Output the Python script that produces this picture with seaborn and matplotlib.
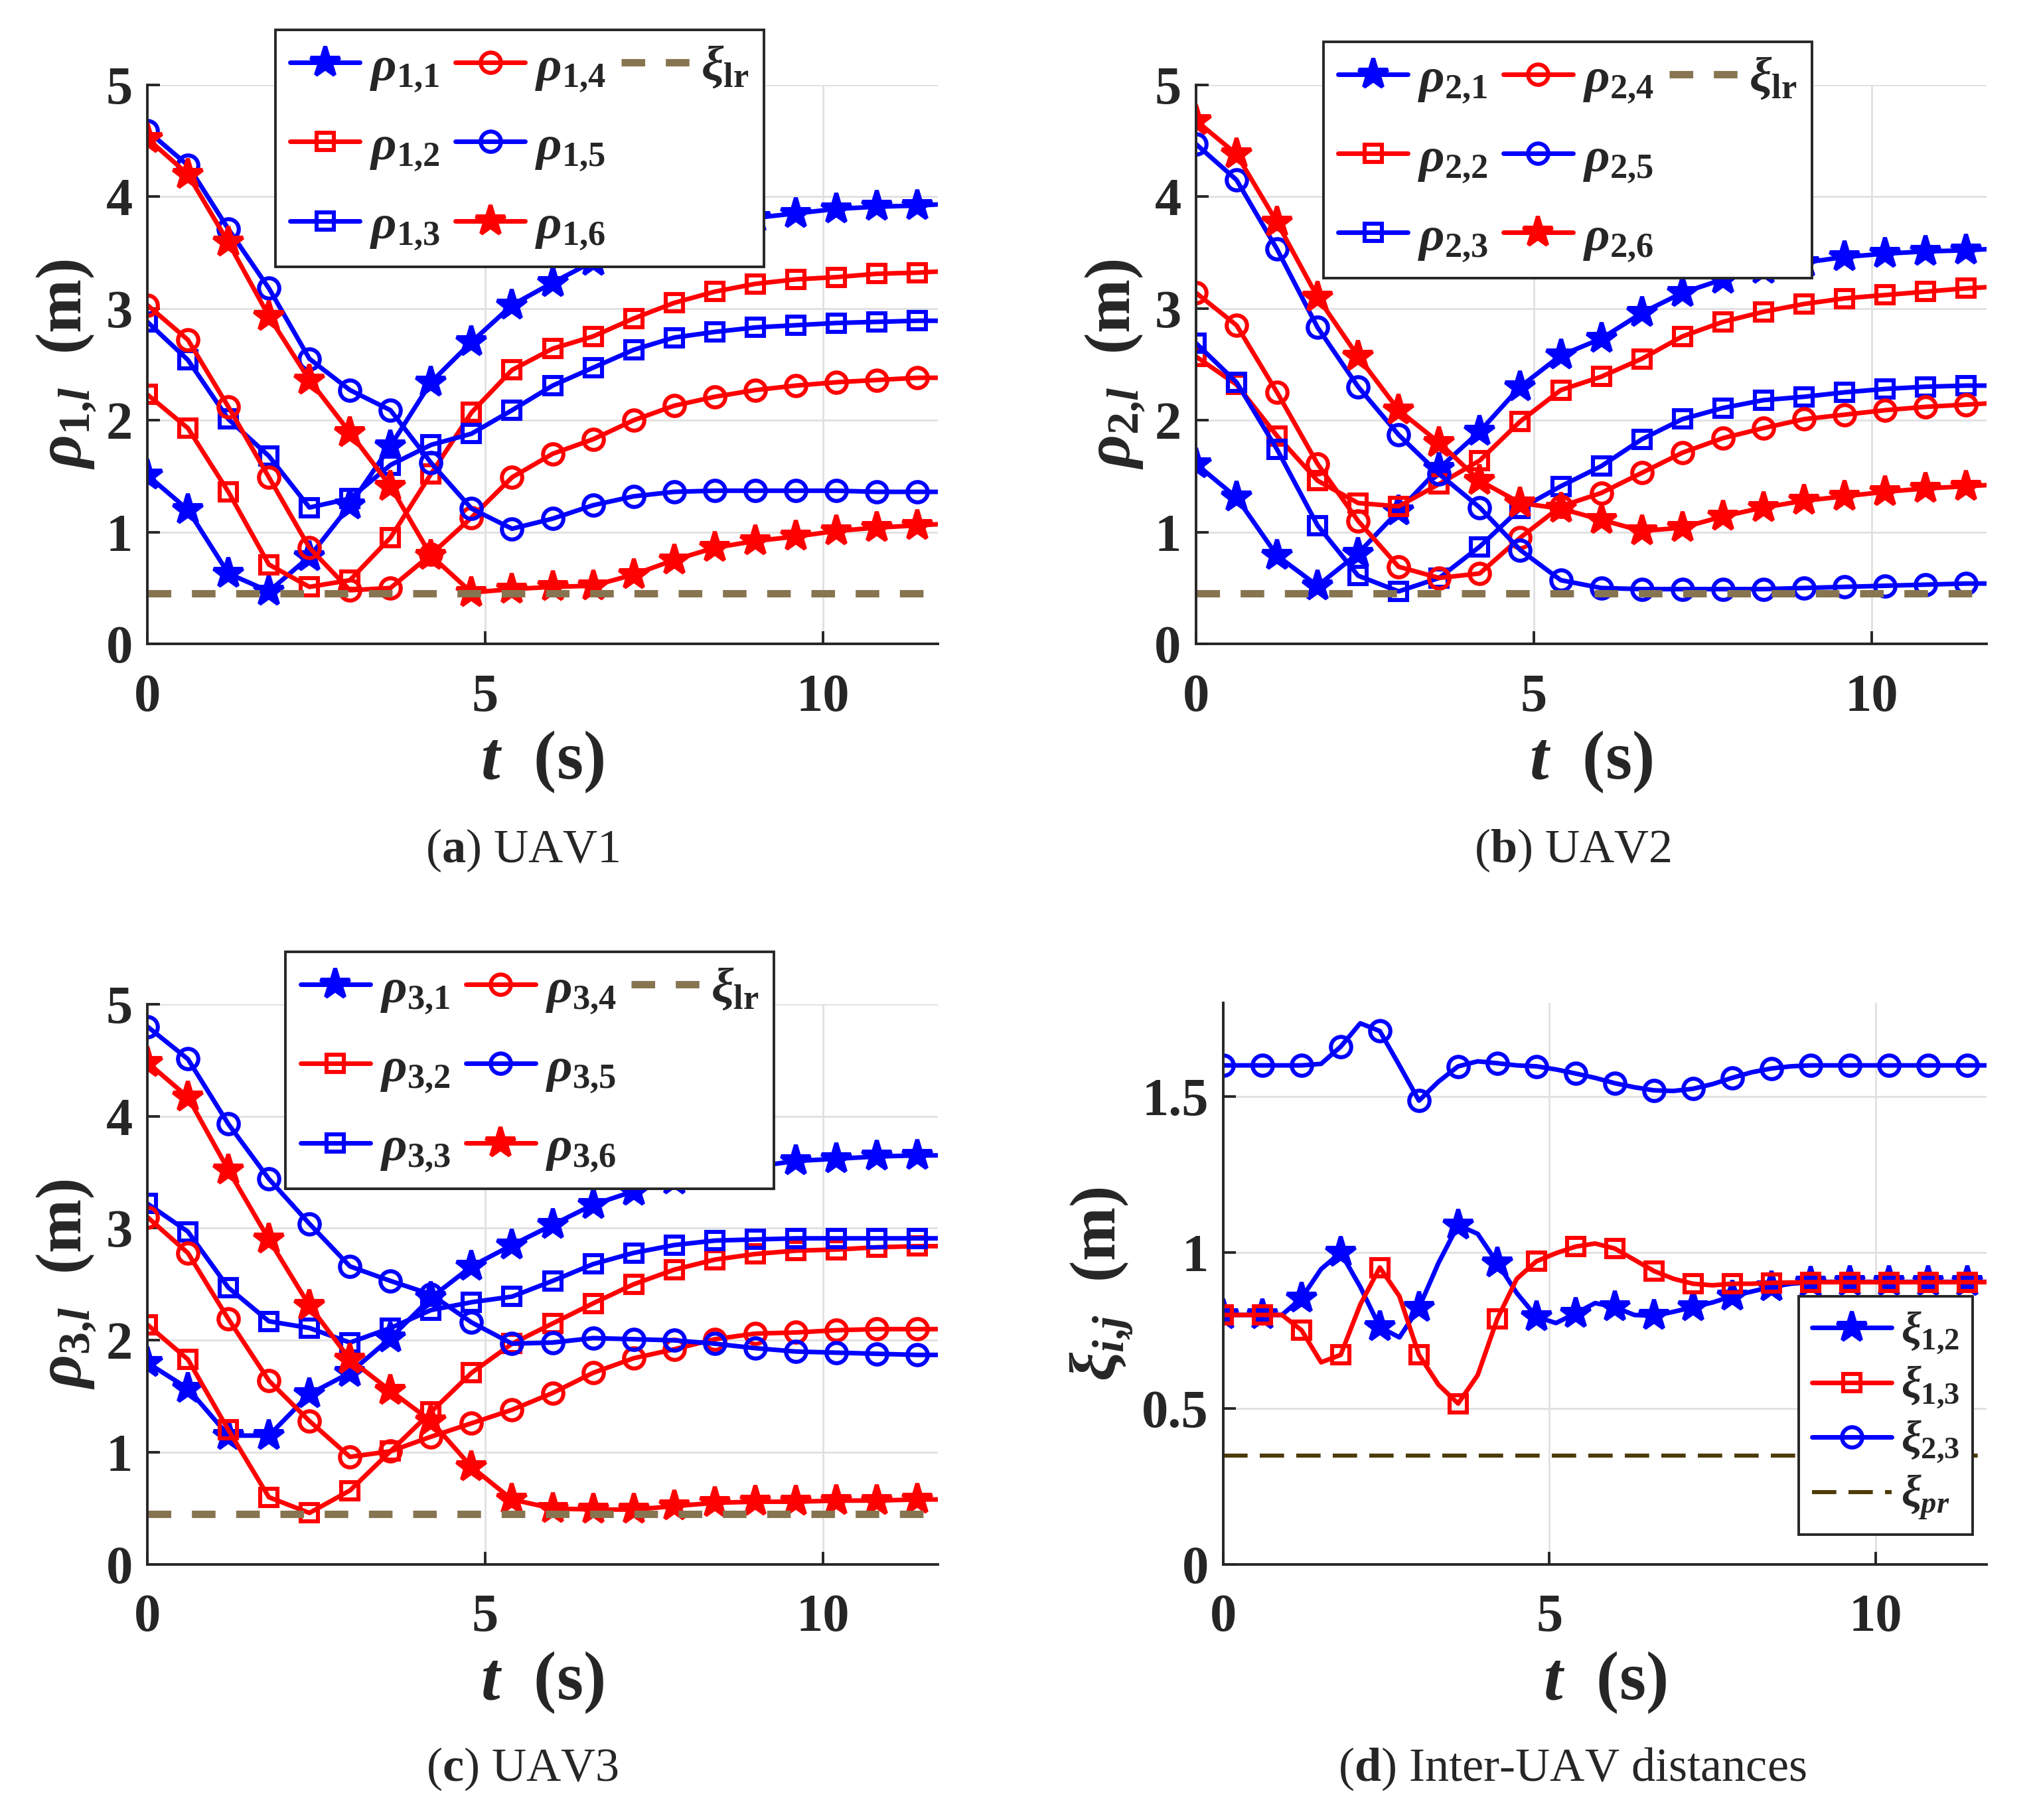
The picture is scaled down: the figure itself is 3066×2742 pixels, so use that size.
import matplotlib
matplotlib.use("Agg")
import matplotlib.pyplot as plt
from matplotlib.lines import Line2D
import seaborn as sns

# --------------------------
# Data
# --------------------------

# time samples for the UAV panels (markers every 0.6 s, last point is the axis edge)
t_rho = [0.0, 0.6, 1.2, 1.8, 2.4, 3.0, 3.6, 4.2, 4.8, 5.4, 6.0,
         6.6, 7.2, 7.8, 8.4, 9.0, 9.6, 10.2, 10.8, 11.4, 11.7]

rho1_1 = [1.51, 1.20, 0.63, 0.47, 0.78, 1.24, 1.77, 2.34, 2.70, 3.03, 3.23, 3.42, 3.57, 3.68, 3.76, 3.81, 3.85, 3.89, 3.91, 3.92, 3.93]
rho1_2 = [2.23, 1.93, 1.36, 0.71, 0.51, 0.57, 0.95, 1.52, 2.07, 2.45, 2.64, 2.75, 2.91, 3.05, 3.15, 3.22, 3.26, 3.28, 3.31, 3.32, 3.33]
rho1_3 = [2.88, 2.54, 2.01, 1.68, 1.22, 1.30, 1.60, 1.78, 1.88, 2.09, 2.31, 2.47, 2.63, 2.74, 2.79, 2.83, 2.85, 2.87, 2.88, 2.89, 2.89]
rho1_4 = [3.03, 2.72, 2.12, 1.49, 0.86, 0.48, 0.50, 0.80, 1.13, 1.49, 1.70, 1.83, 2.00, 2.13, 2.21, 2.27, 2.31, 2.34, 2.36, 2.38, 2.38]
rho1_5 = [4.59, 4.28, 3.71, 3.18, 2.55, 2.27, 2.09, 1.62, 1.21, 1.03, 1.12, 1.24, 1.32, 1.36, 1.37, 1.37, 1.37, 1.37, 1.36, 1.36, 1.36]
rho1_6 = [4.52, 4.20, 3.59, 2.93, 2.36, 1.89, 1.41, 0.79, 0.46, 0.49, 0.51, 0.52, 0.62, 0.75, 0.86, 0.92, 0.96, 1.01, 1.04, 1.06, 1.07]

rho2_1 = [1.61, 1.31, 0.79, 0.52, 0.81, 1.19, 1.57, 1.90, 2.30, 2.58, 2.73, 2.96, 3.14, 3.26, 3.35, 3.41, 3.46, 3.49, 3.51, 3.52, 3.53]
rho2_2 = [2.57, 2.32, 1.86, 1.46, 1.26, 1.23, 1.43, 1.64, 1.99, 2.27, 2.39, 2.55, 2.75, 2.88, 2.97, 3.04, 3.09, 3.12, 3.15, 3.18, 3.19]
rho2_3 = [2.69, 2.34, 1.74, 1.06, 0.61, 0.47, 0.59, 0.87, 1.21, 1.41, 1.59, 1.83, 2.01, 2.11, 2.18, 2.21, 2.25, 2.28, 2.30, 2.31, 2.31]
rho2_4 = [3.14, 2.85, 2.25, 1.61, 1.10, 0.69, 0.59, 0.63, 0.95, 1.23, 1.35, 1.53, 1.71, 1.84, 1.93, 2.01, 2.05, 2.09, 2.12, 2.14, 2.15]
rho2_5 = [4.47, 4.15, 3.53, 2.83, 2.30, 1.87, 1.52, 1.22, 0.84, 0.57, 0.50, 0.49, 0.49, 0.49, 0.49, 0.50, 0.51, 0.52, 0.53, 0.54, 0.54]
rho2_6 = [4.68, 4.38, 3.77, 3.10, 2.57, 2.09, 1.80, 1.46, 1.26, 1.21, 1.11, 1.01, 1.04, 1.14, 1.22, 1.28, 1.32, 1.36, 1.39, 1.41, 1.42]

rho3_1 = [1.80, 1.57, 1.15, 1.15, 1.52, 1.71, 2.02, 2.38, 2.66, 2.85, 3.03, 3.21, 3.33, 3.43, 3.50, 3.55, 3.60, 3.62, 3.64, 3.65, 3.65]
rho3_2 = [2.14, 1.83, 1.20, 0.60, 0.46, 0.66, 1.01, 1.36, 1.71, 1.97, 2.15, 2.33, 2.50, 2.63, 2.72, 2.77, 2.80, 2.81, 2.83, 2.84, 2.84]
rho3_3 = [3.22, 2.97, 2.47, 2.17, 2.11, 1.98, 2.11, 2.27, 2.34, 2.39, 2.53, 2.68, 2.78, 2.85, 2.89, 2.90, 2.91, 2.91, 2.91, 2.91, 2.91]
rho3_4 = [3.10, 2.78, 2.19, 1.64, 1.28, 0.96, 1.01, 1.14, 1.26, 1.38, 1.53, 1.71, 1.84, 1.92, 2.01, 2.06, 2.07, 2.09, 2.10, 2.10, 2.10]
rho3_5 = [4.80, 4.51, 3.93, 3.44, 3.04, 2.66, 2.53, 2.41, 2.16, 1.97, 1.98, 2.02, 2.01, 2.00, 1.97, 1.93, 1.90, 1.89, 1.88, 1.87, 1.87]
rho3_6 = [4.48, 4.17, 3.52, 2.90, 2.31, 1.83, 1.55, 1.28, 0.87, 0.58, 0.50, 0.49, 0.49, 0.52, 0.55, 0.56, 0.56, 0.57, 0.57, 0.58, 0.58]

xi_lr = 0.45

# inter-UAV distances, sampled every 0.3 s (markers every 0.6 s)
t_xi = [0.0, 0.3, 0.6, 0.9, 1.2, 1.5, 1.8, 2.1, 2.4, 2.7, 3.0, 3.3, 3.6, 3.9,
        4.2, 4.5, 4.8, 5.1, 5.4, 5.7, 6.0, 6.3, 6.6, 6.9, 7.2, 7.5, 7.8, 8.1,
        8.4, 8.7, 9.0, 9.3, 9.6, 9.9, 10.2, 10.5, 10.8, 11.1, 11.4, 11.7]

xi_12 = [0.80, 0.80, 0.80, 0.80, 0.854, 0.947, 1.00, 0.89, 0.761, 0.728, 0.823, 0.967, 1.088, 1.06,
         0.967, 0.87, 0.794, 0.774, 0.805, 0.838, 0.825, 0.80, 0.797, 0.81, 0.825, 0.84, 0.86, 0.875,
         0.89, 0.90, 0.905, 0.906, 0.906, 0.906, 0.906, 0.906, 0.906, 0.906, 0.906, 0.906]
xi_13 = [0.80, 0.80, 0.80, 0.80, 0.751, 0.648, 0.672, 0.833, 0.952, 0.86, 0.672, 0.576, 0.516, 0.607,
         0.787, 0.916, 0.972, 0.998, 1.019, 1.029, 1.013, 0.977, 0.941, 0.916, 0.90, 0.895, 0.90, 0.90,
         0.903, 0.904, 0.905, 0.905, 0.905, 0.905, 0.905, 0.905, 0.905, 0.905, 0.905, 0.905]
xi_23 = [1.60, 1.60, 1.60, 1.60, 1.60, 1.605, 1.66, 1.735, 1.71, 1.60, 1.487, 1.548, 1.597, 1.613,
         1.607, 1.60, 1.597, 1.587, 1.574, 1.56, 1.543, 1.53, 1.52, 1.518, 1.525, 1.54, 1.56, 1.578,
         1.59, 1.597, 1.60, 1.60, 1.60, 1.60, 1.60, 1.60, 1.60, 1.60, 1.60, 1.60]

xi_pr = 0.35

rho_yticks = [0, 1, 2, 3, 4, 5]
xi_yticks = [0, 0.5, 1, 1.5]
xi_yticklabels = ["0", "0.5", "1", "1.5"]
t_ticks = [0, 5, 10]

captions = [r"($\mathbf{a}$) UAV1", r"($\mathbf{b}$) UAV2",
            r"($\mathbf{c}$) UAV3", r"($\mathbf{d}$) Inter-UAV distances"]

# --------------------------
# Style
# --------------------------

sns.set_theme(style="whitegrid")
plt.rcParams.update({
    "font.family": ["Liberation Serif", "DejaVu Serif"],
    "font.weight": "bold",
    "mathtext.fontset": "custom",
    "mathtext.rm": "Liberation Serif:bold",
    "mathtext.it": "Liberation Serif:italic:bold",
    "mathtext.bf": "Liberation Serif:bold",
    "axes.edgecolor": "#262626",
    "axes.linewidth": 1.4,
    "axes.labelcolor": "#262626",
    "text.color": "#262626",
    "xtick.color": "#262626",
    "ytick.color": "#262626",
    "grid.color": "#e0e0e0",
    "grid.linewidth": 1.0,
})

BLUE = "#0000ff"
RED = "#ff0000"
LR_COLOR = "#877551"
PR_COLOR = "#4d3b08"

# (color, marker) for l = 1..6
rho_styles = [(BLUE, "*"), (RED, "s"), (BLUE, "s"), (RED, "o"), (BLUE, "o"), (RED, "*")]
marker_sizes = {"*": 17, "s": 9.5, "o": 11}


def draw_line(ax, t, vals, color, marker, label, markevery):
    sns.lineplot(
        x=t, y=vals, ax=ax, color=color, lw=2.5,
        marker=marker, markersize=marker_sizes[marker],
        markerfacecolor=color if marker == "*" else "none",
        markeredgecolor=color, markeredgewidth=2.2,
        markevery=markevery, label=label, legend=False,
    )


def style_axes(ax, ylim, yticks, yticklabels, ylabel):
    ax.set_xlim(0, 11.7)
    ax.set_ylim(*ylim)
    ax.set_xticks(t_ticks)
    ax.set_xticklabels([str(v) for v in t_ticks])
    ax.set_yticks(yticks)
    ax.set_yticklabels(yticklabels)
    ax.tick_params(axis="x", labelsize=29, pad=16, direction="in", length=7, width=1.4, bottom=True)
    ax.tick_params(axis="y", labelsize=29, pad=8, direction="in", length=7, width=1.4, left=True)
    for lbl in ax.get_xticklabels() + ax.get_yticklabels():
        lbl.set_fontweight("bold")
    ax.spines["top"].set_visible(False)
    ax.spines["right"].set_visible(False)
    ax.set_xlabel(r"$t$  (s)", fontsize=37, fontweight="bold", labelpad=4)
    ax.set_ylabel(ylabel, fontsize=35, fontweight="bold", labelpad=4)
    ax.grid(True)


fig = plt.figure(figsize=(15.33, 13.71), dpi=200)

ax_a = fig.add_axes([0.0724, 0.6462, 0.3883, 0.3072])
ax_b = fig.add_axes([0.5877, 0.6462, 0.3884, 0.3072])
ax_c = fig.add_axes([0.0724, 0.1404, 0.3883, 0.3079])
ax_d = fig.add_axes([0.6011, 0.1404, 0.3751, 0.3085])

uav_panels = [
    (ax_a, 1, [rho1_1, rho1_2, rho1_3, rho1_4, rho1_5, rho1_6], (0.162, 1.098)),
    (ax_b, 2, [rho2_1, rho2_2, rho2_3, rho2_4, rho2_5, rho2_6], (0.161, 1.077)),
    (ax_c, 3, [rho3_1, rho3_2, rho3_3, rho3_4, rho3_5, rho3_6], (0.175, 1.093)),
]

for ax, i, series, anchor in uav_panels:
    handles = []
    for l, (vals, (col, mk)) in enumerate(zip(series, rho_styles), start=1):
        draw_line(ax, t_rho, vals, col, mk, r"$\rho_{%d{,}%d}$" % (i, l), slice(0, 20))
        handles.append(ax.get_lines()[-1])
    lr = ax.axhline(xi_lr, color=LR_COLOR, lw=4, ls=(0, (3.2, 2.8)), label=r"$\xi_{\mathrm{lr}}$")
    handles.append(lr)
    handles += [Line2D([], [], ls="none", label=" "), Line2D([], [], ls="none", label=" ")]
    style_axes(ax, (0, 5), rho_yticks, [str(v) for v in rho_yticks], r"$\rho_{%d{,}l}$  (m)" % i)
    leg = ax.legend(handles=handles, labels=[h.get_label() for h in handles], ncol=3,
                    loc="upper left", bbox_to_anchor=anchor, borderaxespad=0,
                    fontsize=27, handlelength=1.4, handletextpad=0.2, columnspacing=0.3,
                    labelspacing=0.62, borderpad=0.3, frameon=True, fancybox=False,
                    framealpha=1, edgecolor="#262626")
    leg.get_frame().set_linewidth(1.4)
    leg.set_zorder(10)

# Inter-UAV distances
draw_line(ax_d, t_xi, xi_12, BLUE, "*", r"$\xi_{1{,}2}$", 2)
draw_line(ax_d, t_xi, xi_13, RED, "s", r"$\xi_{1{,}3}$", 2)
draw_line(ax_d, t_xi, xi_23, BLUE, "o", r"$\xi_{2{,}3}$", 2)
ax_d.axhline(xi_pr, color=PR_COLOR, lw=2.2, ls=(0, (6, 3)), label=r"$\xi_{pr}$")
style_axes(ax_d, (0, 1.8), xi_yticks, xi_yticklabels, r"$\xi_{i{,}j}$  (m)")
leg = ax_d.legend(loc="lower right", bbox_to_anchor=(0.982, 0.053), borderaxespad=0,
                  fontsize=24, handlelength=1.8, handletextpad=0.2, labelspacing=0.2,
                  borderpad=0.3, frameon=True, fancybox=False, framealpha=1, edgecolor="#262626")
leg.get_frame().set_linewidth(1.4)

# panel captions
fig.text(0.2567, 0.5328, captions[0], ha="center", va="center", fontsize=26, fontweight="normal")
fig.text(0.7727, 0.5328, captions[1], ha="center", va="center", fontsize=26, fontweight="normal")
fig.text(0.2567, 0.0281, captions[2], ha="center", va="center", fontsize=26, fontweight="normal")
fig.text(0.7727, 0.0281, captions[3], ha="center", va="center", fontsize=26, fontweight="normal")

fig.savefig("out.png", dpi=200)
